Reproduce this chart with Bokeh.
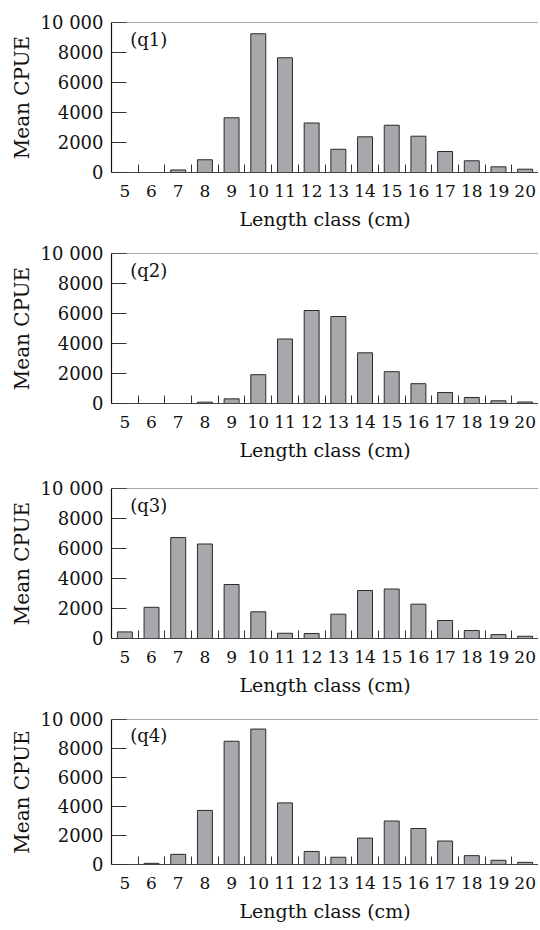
from bokeh.plotting import figure
from bokeh.layouts import column
from bokeh.models import FixedTicker, Span, Label, ColumnDataSource, Range1d
from bokeh.embed import file_html
from bokeh.resources import INLINE

length_classes = list(range(5, 21))
panel_labels = ["(q1)", "(q2)", "(q3)", "(q4)"]
q1 = [0, 0, 170, 850, 3650, 9250, 7650, 3300, 1550, 2380, 3150, 2420, 1400, 780, 380, 220]
q2 = [0, 0, 0, 90, 310, 1920, 4300, 6200, 5800, 3380, 2120, 1320, 730, 400, 180, 100]
q3 = [440, 2080, 6730, 6300, 3600, 1780, 350, 330, 1620, 3200, 3300, 2290, 1200, 530, 260, 150]
q4 = [0, 80, 700, 3730, 8500, 9340, 4250, 900, 500, 1820, 3000, 2480, 1620, 610, 290, 150]
series = [q1, q2, q3, q4]
y_ticks = [0, 2000, 4000, 6000, 8000, 10000]
y_tick_labels = {10000: "10 000"}
x_title = "Length class (cm)"
y_title = "Mean CPUE"

FONT = "DejaVu Serif"
TOPS = [22, 19, 23, 19]
BOTTOMS = [62, 62, 62, 55]
figs = []
for i, (vals, lab) in enumerate(zip(series, panel_labels)):
    tb, bb = TOPS[i], BOTTOMS[i]
    p = figure(width=538, height=tb + 150 + bb, output_backend="svg",
               toolbar_location=None, x_range=Range1d(4.5, 20.5),
               y_range=Range1d(0, 10000),
               min_border_left=111, min_border_right=0,
               min_border_top=tb, min_border_bottom=bb)
    p.outline_line_color = None
    p.xgrid.visible = False
    p.ygrid.visible = False
    src = ColumnDataSource(dict(x=length_classes, top=vals))
    p.vbar(x="x", top="top", bottom=0, width=0.56, source=src,
           fill_color="#a7a8ab", line_color="#2a2a2a", line_width=1)

    # x axis
    xa = p.xaxis[0]
    xa.ticker = FixedTicker(ticks=length_classes,
                            minor_ticks=[c + 0.5 for c in length_classes[:-1]])
    xa.major_tick_in = 0
    xa.major_tick_out = 0
    xa.minor_tick_in = 8
    xa.minor_tick_out = 0
    xa.minor_tick_line_color = "#333333"
    xa.axis_line_color = "#444444"
    xa.axis_line_width = 1
    xa.major_label_standoff = 12
    xa.major_label_text_font = FONT
    xa.major_label_text_font_size = "17px"
    xa.major_label_text_color = "#111111"
    xa.axis_label = x_title
    xa.axis_label_text_font = FONT
    xa.axis_label_text_font_size = "19px"
    xa.axis_label_text_font_style = "normal"
    xa.axis_label_text_color = "#111111"
    xa.axis_label_standoff = 8

    # y axis
    ya = p.yaxis[0]
    ya.ticker = FixedTicker(ticks=y_ticks, minor_ticks=[])
    ya.major_label_overrides = y_tick_labels
    ya.major_tick_in = 15
    ya.major_tick_out = 0
    ya.major_tick_line_color = "#333333"
    ya.axis_line_color = "#111111"
    ya.axis_line_width = 1.2
    ya.major_label_standoff = 8
    ya.major_label_text_font = FONT
    ya.major_label_text_font_size = "18px"
    ya.major_label_text_color = "#111111"
    ya.axis_label = y_title
    ya.axis_label_text_font = FONT
    ya.axis_label_text_font_size = "20px"
    ya.axis_label_text_font_style = "normal"
    ya.axis_label_text_color = "#111111"
    ya.axis_label_standoff = 4

    p.add_layout(Span(location=10000, dimension="width", line_color="#555555", line_width=1))
    p.add_layout(Label(x=5.2, y=9600, text=lab, text_font=FONT, text_font_size="18px",
                       text_baseline="top", text_color="#111111"))
    figs.append(p)

layout = column(*figs, spacing=0)
open("out.html", "w").write(file_html(layout, INLINE))
